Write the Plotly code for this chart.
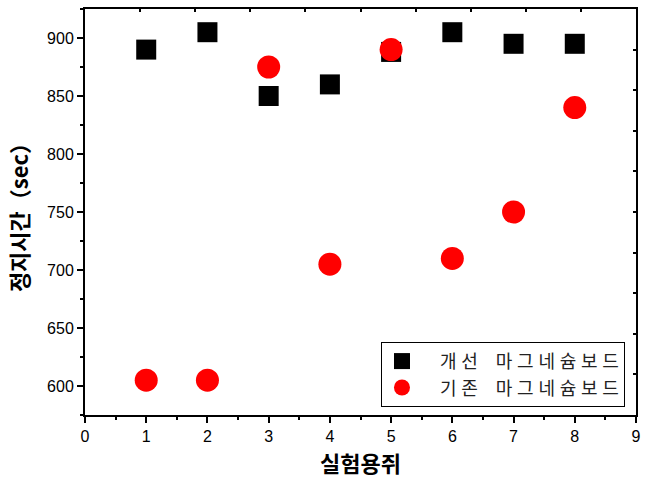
import plotly.graph_objects as go

mice = [1, 2, 3, 4, 5, 6, 7, 8]
improved = [890, 905, 850, 860, 888, 905, 895, 895]
existing = [605, 605, 875, 705, 890, 710, 750, 840]
name_improved = "개선 마그네슘보드"
name_existing = "기존 마그네슘보드"
x_title = "실험용쥐"
y_title = "정지시간（sec）"

kfont = "Noto Sans CJK KR"
tfont = "Liberation Sans, Arial, sans-serif"


def spaced(s):
    # widen letter spacing like the reference legend text
    words = s.split(" ")
    return "\u2002\u2002".join("\u2009\u200a".join(w) for w in words)


lead = "\u2002\u2002"

fig = go.Figure()
fig.add_trace(go.Scatter(x=mice, y=improved, mode="markers", name=lead + spaced(name_improved),
                         marker=dict(symbol="square", size=20, color="black",
                                     line=dict(width=0))))
fig.add_trace(go.Scatter(x=mice, y=existing, mode="markers", name=lead + spaced(name_existing),
                         marker=dict(symbol="circle", size=23, color="#ff0000",
                                     line=dict(width=0))))

fig.update_layout(
    width=649, height=479,
    margin=dict(l=85, r=13, t=9, b=64),
    plot_bgcolor="white", paper_bgcolor="white",
    showlegend=True,
    legend=dict(x=0.98, y=0.02, xanchor="right", yanchor="bottom",
                bgcolor="white", bordercolor="black", borderwidth=1,
                font=dict(family=kfont, size=18, color="#222222"),
                itemsizing="trace", tracegroupgap=0),
    xaxis=dict(range=[0, 9], dtick=1, tick0=0, showline=True, linecolor="black",
               linewidth=2, ticks="outside", ticklen=6, tickwidth=1.5, tickcolor="black",
               minor=dict(ticks="outside", ticklen=3, dtick=0.5, tickcolor="black", tickwidth=1.5),
               showgrid=False, zeroline=False, automargin=False,
               tickfont=dict(family=tfont, size=16, color="black"),
               title=dict(text=x_title, font=dict(family=kfont, size=22, color="black", weight="bold"),
                          standoff=12)),
    yaxis=dict(range=[575, 925], dtick=50, tick0=600, showline=True, linecolor="black",
               linewidth=2, ticks="outside", ticklen=6, tickwidth=1.5, tickcolor="black",
               minor=dict(ticks="outside", ticklen=3, dtick=25, tickcolor="black", tickwidth=1.5),
               showgrid=False, zeroline=False, automargin=False,
               tickfont=dict(family=tfont, size=16, color="black"),
               title=dict(text=y_title, font=dict(family=kfont, size=22, color="black", weight="bold"),
                          standoff=12)),
    xaxis2=dict(range=[0, 10], dtick=1, overlaying="x", side="top", showline=True,
                linecolor="black", linewidth=2, ticks="inside", ticklen=3, tickwidth=1.5,
                tickcolor="black", showticklabels=False, showgrid=False, zeroline=False),
    yaxis2=dict(range=[0, 10], dtick=1, overlaying="y", side="right", showline=True,
                linecolor="black", linewidth=2, ticks="inside", ticklen=3, tickwidth=1.5,
                tickcolor="black", showticklabels=False, showgrid=False, zeroline=False),
)
# invisible helper trace to activate the mirrored frame axes
fig.add_trace(go.Scatter(x=[None], y=[None], xaxis="x2", yaxis="y2", showlegend=False,
                         hoverinfo="skip"))

fig.write_html("out.html")
